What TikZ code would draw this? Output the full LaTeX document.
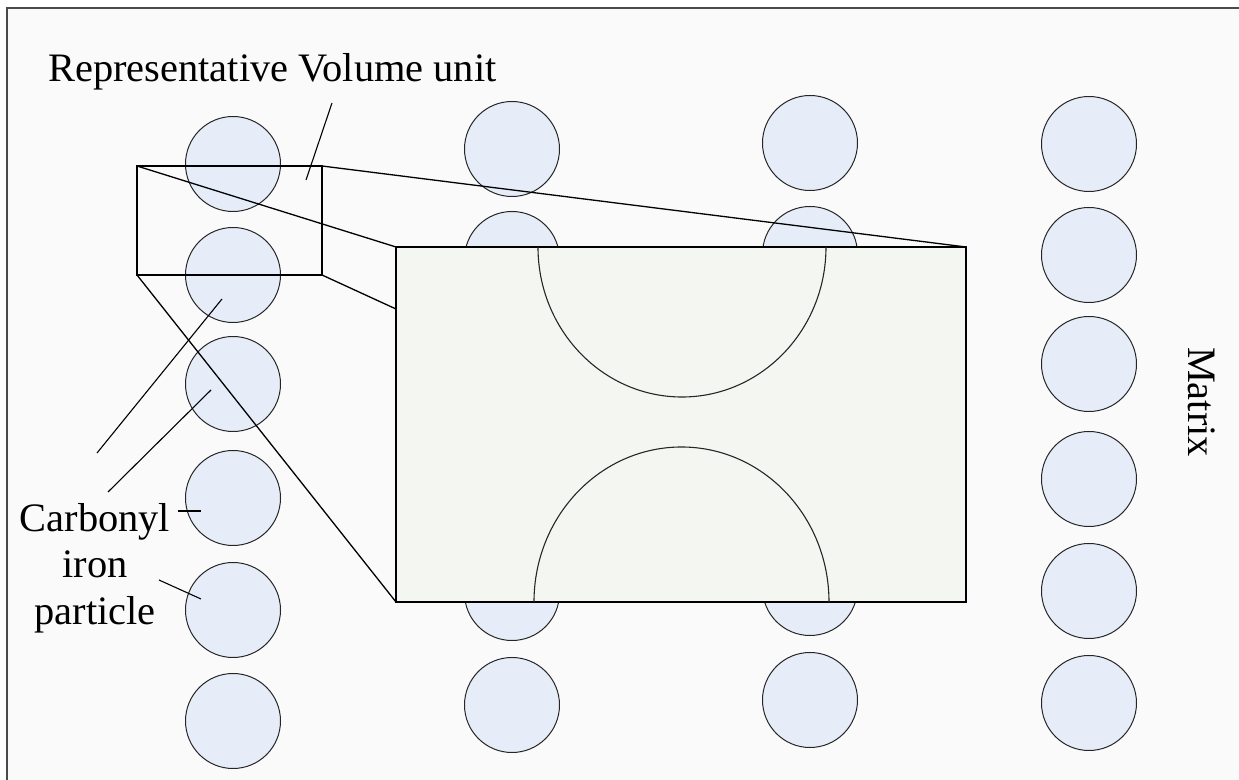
\documentclass[tikz,border=0pt]{standalone}
\usepackage{fontspec}
\setmainfont{Liberation Serif}
\definecolor{bgc}{HTML}{FAFAFA}
\definecolor{partc}{HTML}{E6EDF8}
\definecolor{boxc}{HTML}{F4F7F1}
\definecolor{framec}{HTML}{4A4A4A}
\begin{document}
\begin{tikzpicture}[x=0.5pt,y=-0.5pt,
  particle/.style={circle,draw=black!85,fill=partc,line width=0.5pt,minimum size=47.5pt,inner sep=0pt},
  lbl/.style={font=\fontsize{20.2}{23.5}\selectfont,inner sep=0pt},
  leader/.style={draw=black,line width=0.55pt},
  zoomline/.style={draw=black,line width=0.65pt}]
\useasboundingbox (0,0) rectangle (1239,780);
\clip (0,0) rectangle (1239,780);
\fill[white] (0,0) rectangle (1239,780);
\draw[framec,line width=1pt,fill=bgc] (7,8) rectangle (1260,800);
% column 1
\foreach \i/\y in {1/164,2/275,3/384,4/498,5/610,6/721}
  \node[particle] (a\i) at (233,\y) {};
% column 2
\foreach \i/\y in {1/149,2/259,3/593,4/705}
  \node[particle] (b\i) at (512,\y) {};
% column 3
\foreach \i/\y in {1/143,2/254,3/588,4/700}
  \node[particle] (c\i) at (810,\y) {};
% column 4
\foreach \i/\y in {1/144,2/255,3/364,4/479,5/591,6/703}
  \node[particle] (d\i) at (1089,\y) {};
% zoomed box
\coordinate (ztl) at (396,247);
\coordinate (ztr) at (966,247);
\coordinate (zbl) at (396,602);
\coordinate (zbr) at (966,602);
\coordinate (zml) at (396,309);
\draw[black,line width=0.8pt,fill=boxc] (ztl) rectangle (zbr);
\draw[black!85,line width=0.55pt] (538,247) arc[start angle=180,end angle=0,x radius=144,y radius=150];
\draw[black!85,line width=0.55pt] (534,602) arc[start angle=180,end angle=360,x radius=147.5,y radius=155];
% RVE
\coordinate (rtl) at (137,166);
\coordinate (rtr) at (322,166);
\coordinate (rbl) at (137,275);
\coordinate (rbr) at (322,275);
\draw[zoomline] (rtl) rectangle (rbr);
\draw[zoomline] (rtl) -- (ztl);
\draw[zoomline] (rtr) -- (ztr);
\draw[zoomline] (rbr) -- (zml);
\draw[zoomline] (rbl) -- (zbl);
% labels
\node[lbl,anchor=base west] (rve) at (48,82) {Representative Volume unit};
\coordinate (rvep1) at (332,103);
\coordinate (rvep2) at (306,180);
\draw[leader] (rvep1) -- (rvep2);
\node[lbl,align=center,anchor=base] (cip) at (95,625) {Carbonyl\\iron\\particle};
\coordinate (l1a) at (97,453);  \coordinate (l1b) at (222,299);
\coordinate (l2a) at (108,492); \coordinate (l2b) at (211,390);
\coordinate (l3a) at (178,511); \coordinate (l3b) at (201,511);
\coordinate (l4a) at (159,580); \coordinate (l4b) at (201,599);
\draw[leader] (l1a) -- (l1b);
\draw[leader] (l2a) -- (l2b);
\draw[leader] (l3a) -- (l3b);
\draw[leader] (l4a) -- (l4b);
\node[lbl,rotate=-90] (mat) at (1202,402) {Matrix};
\end{tikzpicture}
\end{document}
